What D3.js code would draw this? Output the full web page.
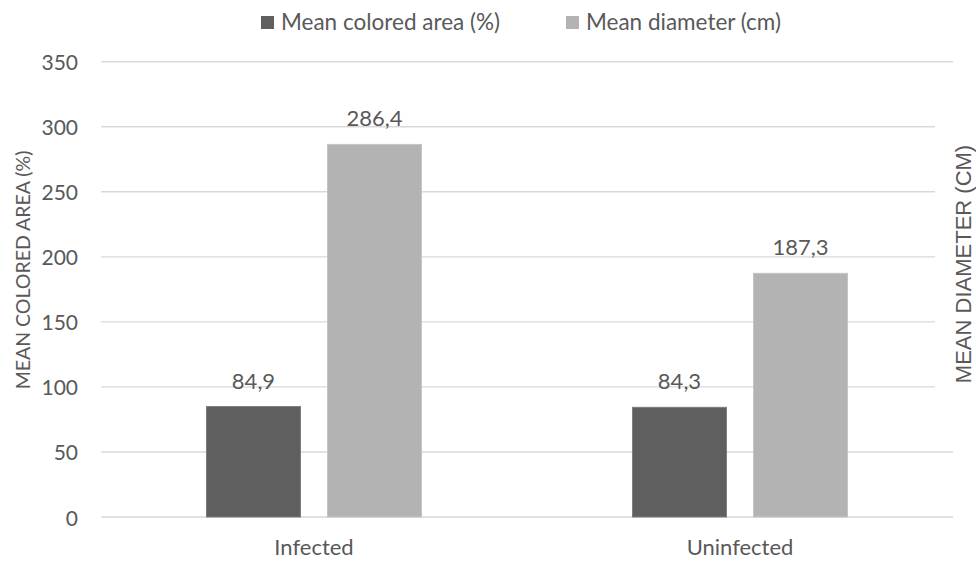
<!DOCTYPE html>
<html>
<head>
<meta charset="utf-8">
<script src="https://cdn.jsdelivr.net/npm/d3@7/dist/d3.min.js"></script>
<style>
  html, body { margin: 0; padding: 0; background: #ffffff; }
  svg { display: block; }
  text { font-family: Lato, "Open Sans", sans-serif; fill: #595959; }
</style>
</head>
<body>
<svg id="chart" width="976" height="561"></svg>
<script>
// Chart data
const categories = ["Infected", "Uninfected"];
const seriesNames = ["Mean colored area (%)", "Mean diameter (cm)"];
const coloredArea = [84.9, 84.3];
const diameter = [286.4, 187.3];
const yTicks = [0, 50, 100, 150, 200, 250, 300, 350];
const leftTitle = "MEAN COLORED AREA (%)";
const rightTitle = "MEAN DIAMETER (CM)";

const seriesValues = [coloredArea, diameter];
const colors = ["#5f5f5f", "#b3b3b3"];
const edges = ["#7d7d7d", "#c4c4c4"];

const svg = d3.select("#chart");
const width = 976, height = 561;
const plot = { left: 101, right: 953, top: 61.7, bottom: 517 };

svg.append("rect").attr("width", width).attr("height", height).attr("fill", "#ffffff");

const y = d3.scaleLinear().domain([0, 350]).range([plot.bottom, plot.top]);
const x = d3.scaleBand().domain(categories).range([plot.left, plot.right]).padding(0);
const groupWidth = 216;
const xs = d3.scaleBand().domain(d3.range(seriesNames.length))
  .range([0, groupWidth]).paddingInner(26 / 121).paddingOuter(0);

const fmt = d3.formatLocale({ decimal: ",", thousands: ".", grouping: [3], currency: ["", ""] }).format(".1f");

// Gridlines
svg.append("g").selectAll("line").data(yTicks).join("line")
  .attr("x1", plot.left).attr("x2", plot.right)
  .attr("y1", d => y(d)).attr("y2", d => y(d))
  .attr("stroke", "#d9d9d9").attr("stroke-width", 1.4);

// Left axis tick labels
svg.append("g").selectAll("text").data(yTicks).join("text")
  .attr("x", 78).attr("y", d => y(d))
  .attr("text-anchor", "end").attr("dominant-baseline", "central")
  .style("font-size", "21px")
  .text(d => d);

// Bars
const groups = svg.append("g").selectAll("g").data(categories).join("g")
  .attr("transform", c => `translate(${x(c) + x.bandwidth() / 2 - groupWidth / 2},0)`);

groups.selectAll("rect").data((c, i) => seriesValues.map((vals, s) => ({ s, v: vals[i] })))
  .join("rect")
  .attr("x", d => xs(d.s) + 0.5)
  .attr("width", xs.bandwidth() - 1)
  .attr("y", d => y(d.v))
  .attr("height", d => y(0) - y(d.v))
  .attr("fill", d => colors[d.s])
  .attr("stroke", d => edges[d.s]).attr("stroke-width", 1);

// Value labels
groups.selectAll("text.val").data((c, i) => seriesValues.map((vals, s) => ({ s, v: vals[i] })))
  .join("text").attr("class", "val")
  .attr("x", d => xs(d.s) + xs.bandwidth() / 2)
  .attr("y", d => y(d.v) - 18)
  .attr("text-anchor", "middle")
  .style("font-size", "22px")
  .text(d => fmt(d.v));

// Category labels
svg.append("g").selectAll("text").data(categories).join("text")
  .attr("x", c => x(c) + x.bandwidth() / 2).attr("y", 555)
  .attr("text-anchor", "middle")
  .style("font-size", "22px")
  .text(c => c);

// Left axis title
svg.append("text")
  .attr("transform", "translate(30,270) rotate(-90)")
  .attr("text-anchor", "middle")
  .style("font-size", "19.5px")
  .text(leftTitle);

// Right axis title on a white box
svg.append("rect").attr("x", 935).attr("y", 95).attr("width", 41).attr("height", 345).attr("fill", "#ffffff");
svg.append("text")
  .attr("transform", "translate(971,264) rotate(-90)")
  .attr("text-anchor", "middle")
  .style("font-family", "'Liberation Sans', Arial, sans-serif")
  .style("font-size", "22px")
  .text(rightTitle);

// Legend
const legendX = [261, 566];
const legend = svg.append("g").selectAll("g").data(seriesNames).join("g")
  .attr("transform", (d, i) => `translate(${legendX[i]},16)`);
legend.append("rect").attr("width", 13).attr("height", 13).attr("fill", (d, i) => colors[i]);
legend.append("text").attr("x", 20).attr("y", 14)
  .style("font-size", "22.5px")
  .text(d => d);
</script>
</body>
</html>
